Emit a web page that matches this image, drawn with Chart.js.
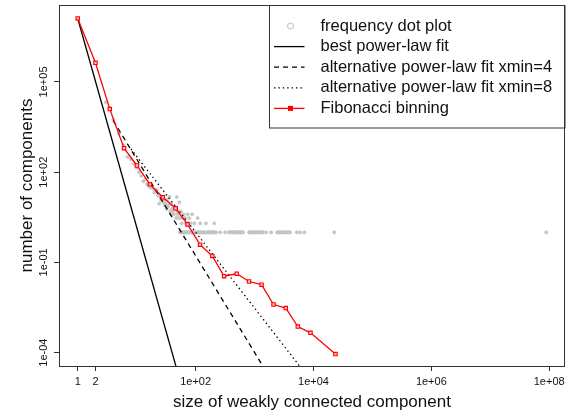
<!DOCTYPE html>
<html>
<head>
<meta charset="utf-8">
<script src="https://cdn.jsdelivr.net/npm/chart.js@4.4.1/dist/chart.umd.min.js"></script>
<style>
  html, body { margin: 0; padding: 0; background: #fff; }
  #wrap { width: 571px; height: 412px; }
</style>
</head>
<body>
<div id="wrap"><canvas id="chart" width="571" height="412"></canvas></div>
<script>
const FONT = "'Liberation Sans', Arial, sans-serif";

// frequency dot plot: component size -> number of components
const FREQ_SIZE = [
  1, 2, 3, 4, 5, 6, 7, 8, 9, 10, 11, 12, 13, 14, 15, 16, 17, 18, 19, 20,
  21, 22, 23, 24, 25, 26, 27, 28, 29, 30, 31, 32, 33, 34, 35, 36, 37, 38, 39, 40,
  41, 42, 43, 44, 45, 47, 48, 49, 50, 51, 53, 55, 56, 58, 60, 62, 64, 66, 68, 70,
  73, 76, 78, 82, 87, 95, 108, 120, 150, 208,
  54, 57, 59, 61, 63, 65, 67, 69, 71, 74, 77, 80, 84, 88, 91, 94, 98, 102, 106, 110,
  115, 119, 124, 129, 134, 139, 145, 156, 163, 169, 176, 183, 190, 198, 205, 213, 222,
  261, 317, 370, 385, 401, 417, 434, 451, 469, 488, 507, 527, 548, 570, 593, 617, 641,
  809, 841, 874, 909, 945, 982, 1021, 1062, 1104, 1148, 1193, 1240, 1290, 1341, 1394, 1574,
  1914, 2420, 2540, 2670, 2800, 2942, 3090, 3310, 3470, 3650, 3830, 4020, 5225, 5940, 7030,
  22500, 89000000
];
const FREQ_COUNT = [
  1.29e7, 4.33e5, 21000, 5600, 1900, 800, 320, 270, 190, 140, 100, 75, 50, 58, 40, 36, 31, 33, 28, 21,
  24, 26, 17, 9, 15, 12, 13, 10, 11, 8, 9, 6, 12, 7, 8, 15, 5, 9, 4, 6,
  5, 7, 4, 6, 7, 3, 15, 5, 4, 3, 10, 3, 5, 2, 3, 4, 3, 3, 2, 2,
  4, 2, 3, 2, 4, 2, 3, 2, 2, 2,
  1, 1, 1, 1, 1, 1, 1, 1, 1, 1, 1, 1, 1, 1, 1, 1, 1, 1, 1, 1,
  1, 1, 1, 1, 1, 1, 1, 1, 1, 1, 1, 1, 1, 1, 1, 1, 1,
  1, 1, 1, 1, 1, 1, 1, 1, 1, 1, 1, 1, 1, 1, 1, 1, 1,
  1, 1, 1, 1, 1, 1, 1, 1, 1, 1, 1, 1, 1, 1, 1, 1,
  1, 1, 1, 1, 1, 1, 1, 1, 1, 1, 1, 1, 1, 1, 1,
  1, 1
];

// Fibonacci binning (bin position, normalised count)
const FIB_X = [1, 2, 3.5, 6.1, 10.1, 16.8, 27.8, 45.8, 73, 119, 192, 304, 499, 807, 1315, 2100, 3390, 5420, 8900, 23600];
const FIB_Y = [1.29e7, 4.33e5, 1.25e4, 630, 167, 39.5, 14.6, 6.3, 1.83, 0.39, 0.164, 0.0348, 0.042, 0.0232, 0.0182, 0.00399, 0.00304, 7.35e-4, 4.55e-4, 8.97e-5];

// fitted power laws (end points)
const BEST_X = [1, 50];
const BEST_Y = [1.29e7, 2.1e-5];
const ALT4_X = [4, 2000];
const ALT4_Y = [5200, 1.1e-5];
const ALT8_X = [8, 8000];
const ALT8_Y = [590, 1.6e-5];

const X_TICKS = [1, 2, 1e2, 1e4, 1e6, 1e8];
const X_TICK_LABELS = ['1', '2', '1e+02', '1e+04', '1e+06', '1e+08'];
const Y_TICKS = [1e-4, 1e-1, 1e2, 1e5];
const Y_TICK_LABELS = ['1e-04', '1e-01', '1e+02', '1e+05'];

const X_TITLE = 'size of weakly connected component';
const Y_TITLE = 'number of components';

const pts = (xs, ys) => xs.map((x, i) => ({ x, y: ys[i] }));

const datasets = [
  { label: 'Fibonacci binning', kind: 'fib', data: pts(FIB_X, FIB_Y), showLine: true,
    borderColor: '#ff0000', borderWidth: 1.3, pointStyle: 'rect', pointRadius: 2.4,
    pointBorderColor: '#ff0000', pointBackgroundColor: '#ffc0c0', pointBorderWidth: 1.1 },
  { label: 'best power-law fit', kind: 'solid', data: pts(BEST_X, BEST_Y), showLine: true,
    borderColor: '#000', borderWidth: 1.3, pointRadius: 0, clip: 0 },
  { label: 'alternative power-law fit xmin=4', kind: 'dash', data: pts(ALT4_X, ALT4_Y), showLine: true,
    borderColor: '#000', borderWidth: 1.3, borderDash: [5, 4], pointRadius: 0, clip: 0 },
  { label: 'alternative power-law fit xmin=8', kind: 'dot', data: pts(ALT8_X, ALT8_Y), showLine: true,
    borderColor: '#000', borderWidth: 1.3, borderDash: [1.4, 3], pointRadius: 0, clip: 0 },
  { label: 'frequency dot plot', kind: 'circle', data: pts(FREQ_SIZE, FREQ_COUNT), showLine: false,
    pointRadius: 1.6, pointBorderWidth: 0.6, pointBorderColor: '#c0c0c0', pointBackgroundColor: '#c8c8c8' },
];
const LEGEND_ORDER = [4, 1, 2, 3, 0];

// box, rotated y labels, axis titles and the R-style legend
const rStyle = {
  id: 'rStyle',
  afterDraw(chart) {
    const ctx = chart.ctx;
    const a = chart.chartArea;
    const y = chart.scales.y;
    ctx.save();
    ctx.strokeStyle = '#333';
    ctx.lineWidth = 1;
    ctx.strokeRect(Math.round(a.left) + 0.5, Math.round(a.top) + 0.5,
                   Math.round(a.right - a.left) - 1, Math.round(a.bottom - a.top));

    ctx.fillStyle = '#111';
    ctx.font = '11px ' + FONT;
    ctx.textAlign = 'center';
    ctx.textBaseline = 'middle';
    Y_TICKS.forEach((v, i) => {
      ctx.save();
      ctx.translate(43.5, y.getPixelForValue(v));
      ctx.rotate(-Math.PI / 2);
      ctx.fillText(Y_TICK_LABELS[i], 0, 0);
      ctx.restore();
    });

    ctx.font = '17px ' + FONT;
    ctx.fillText(X_TITLE, (a.left + a.right) / 2, 402);
    ctx.save();
    ctx.translate(27, (a.top + a.bottom) / 2);
    ctx.rotate(-Math.PI / 2);
    ctx.fillText(Y_TITLE, 0, 0);
    ctx.restore();

    // legend
    const lw = 296.5, lh = 122.5;
    const x0 = Math.round(a.right - lw) + 0.5, y0 = Math.round(a.top) + 0.5;
    ctx.strokeRect(x0, y0, lw - 1, lh);
    ctx.textAlign = 'left';
    ctx.font = '16.5px ' + FONT;
    LEGEND_ORDER.forEach((di, row) => {
      const ds = chart.data.datasets[di];
      const cy = y0 + 20.5 + row * 20.6;
      const sx1 = x0 + 4.5, sx2 = x0 + 35, sc = x0 + 21;
      ctx.save();
      if (ds.kind === 'circle') {
        ctx.strokeStyle = '#bdbdbd';
        ctx.lineWidth = 1;
        ctx.beginPath();
        ctx.arc(sc, cy, 3, 0, Math.PI * 2);
        ctx.stroke();
      } else {
        ctx.strokeStyle = ds.borderColor;
        ctx.lineWidth = 1.3;
        ctx.setLineDash(ds.borderDash || []);
        ctx.beginPath();
        ctx.moveTo(sx1, cy);
        ctx.lineTo(sx2, cy);
        ctx.stroke();
        if (ds.kind === 'fib') {
          ctx.fillStyle = '#ff0000';
          ctx.fillRect(sc - 2.5, cy - 2.5, 5, 5);
        }
      }
      ctx.restore();
      ctx.fillStyle = '#111';
      ctx.fillText(ds.label, x0 + 51, cy);
    });
    ctx.restore();
  }
};

new Chart(document.getElementById('chart'), {
  type: 'scatter',
  data: { datasets },
  options: {
    responsive: false,
    animation: false,
    events: [],
    layout: { padding: { top: 2, right: 6, left: 0, bottom: 0 } },
    plugins: { legend: { display: false }, tooltip: { enabled: false } },
    scales: {
      x: {
        type: 'logarithmic', min: 0.481, max: 1.854e8,
        afterBuildTicks(axis) { axis.ticks = X_TICKS.map(v => ({ value: v })); },
        afterFit(axis) { axis.height = 46; },
        ticks: {
          autoSkip: false, maxRotation: 0, minRotation: 0, padding: 4, color: '#111',
          font: { size: 11, family: FONT },
          callback: (v, i) => X_TICK_LABELS[i],
        },
        grid: { drawOnChartArea: false, drawTicks: true, tickLength: 5, tickColor: '#333', color: '#333' },
        border: { display: false },
      },
      y: {
        type: 'logarithmic', min: 3.6e-5, max: 3.59e7,
        afterBuildTicks(axis) { axis.ticks = Y_TICKS.map(v => ({ value: v })); },
        afterFit(axis) { axis.width = 59; },
        ticks: { display: false },
        grid: { drawOnChartArea: false, drawTicks: true, tickLength: 5, tickColor: '#333', color: '#333' },
        border: { display: false },
      },
    },
  },
  plugins: [rStyle],
});
</script>
</body>
</html>
